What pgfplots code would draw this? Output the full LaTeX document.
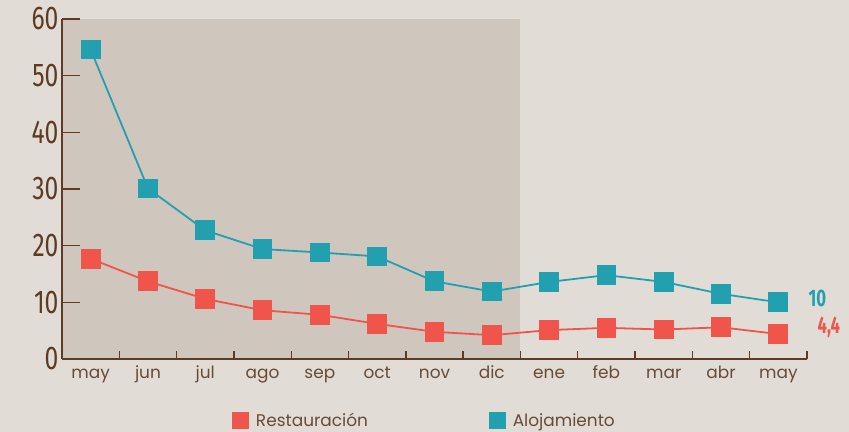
\documentclass[border=0pt]{standalone}
\usepackage{fontspec}
\setmainfont{Poppins}
\newfontfamily\numfont{Fira Sans}
\usepackage{graphicx}
\usepackage{pgfplots}
\pgfplotsset{compat=1.18}
\definecolor{bg}{HTML}{E1DDD6}
\definecolor{shadecol}{HTML}{CFC6BD}
\definecolor{axbrown}{HTML}{5E3B22}
\definecolor{txtbrown}{HTML}{6A4A35}
\definecolor{tealc}{HTML}{23A0B0}
\definecolor{coral}{HTML}{F0554B}
\begin{document}
\begin{tikzpicture}
\fill[bg] (0,0) rectangle (849bp,432bp);
\begin{axis}[
  at={(62bp,73bp)}, anchor=south west,
  scale only axis, width=745bp, height=340bp,
  xmin=-0.5, xmax=12.5, ymin=0, ymax=60,
  clip=false,
  axis lines*=left,
  axis line style={axbrown, line width=1.6bp},
  axis on top,
  tick align=inside,
  xtick pos=bottom, ytick pos=left,
  xtick={0,...,12},
  xticklabels={may,jun,jul,ago,sep,oct,nov,dic,ene,feb,mar,abr,may},
  minor xtick={0.5,1.5,...,12.5},
  major x tick style={draw=none},
  minor x tick style={axbrown, line width=1.4bp},
  minor tick length=8bp,
  major tick length=18bp,
  major y tick style={axbrown, line width=1.4bp},
  ytick={0,10,...,60},
  yticklabel={\scalebox{0.75}[1]{\pgfmathprintnumber[assume math mode=true]{\tick}}},
  yticklabel style={font=\numfont\fontsize{33}{33}\selectfont, text=axbrown},
  xticklabel style={font=\fontsize{17}{17}\selectfont, text=txtbrown, anchor=base, yshift=-19bp},
  legend columns=2,
  legend style={draw=none, fill=none, inner sep=0pt,
    at={(axis description cs:0.2282,-0.1809)}, anchor=west,
    font=\fontsize{17}{17}\selectfont, text=txtbrown,
    /tikz/every even column/.append style={column sep=119bp}},
  legend image code/.code={\fill[#1] (0bp,-7.5bp) rectangle (15bp,7.5bp);},
]
\fill[shadecol] (axis cs:-0.5,0) rectangle (axis cs:7.5,60);
\addplot[coral, line width=1.8bp, mark=square*, mark size=9bp,
  mark options={fill=coral, draw=none}] coordinates {
  (0,17.7) (1,13.7) (2,10.6) (3,8.6) (4,7.8) (5,6.2) (6,4.8) (7,4.2)
  (8,5.1) (9,5.5) (10,5.2) (11,5.6) (12,4.4)};
\addlegendentry{\hspace{5bp}Restauración}
\addplot[tealc, line width=1.8bp, mark=square*, mark size=9bp,
  mark options={fill=tealc, draw=none}] coordinates {
  (0,54.6) (1,30.1) (2,22.7) (3,19.4) (4,18.8) (5,18.1) (6,13.7) (7,11.9)
  (8,13.6) (9,14.8) (10,13.6) (11,11.5) (12,10)};
\addlegendentry{\hspace{5bp}Alojamiento}
\node[anchor=west, inner sep=0pt, text=tealc, font=\numfont\bfseries\fontsize{24}{24}\selectfont]
  at (axis cs:12,10) [xshift=30bp, yshift=4bp] {\scalebox{0.7}[1]{10}};
\node[anchor=west, inner sep=0pt, text=coral, font=\numfont\bfseries\fontsize{24}{24}\selectfont]
  at (axis cs:12,4.4) [xshift=39bp, yshift=6.5bp] {\scalebox{0.7}[1]{4,4}};
\end{axis}
\end{tikzpicture}
\end{document}
